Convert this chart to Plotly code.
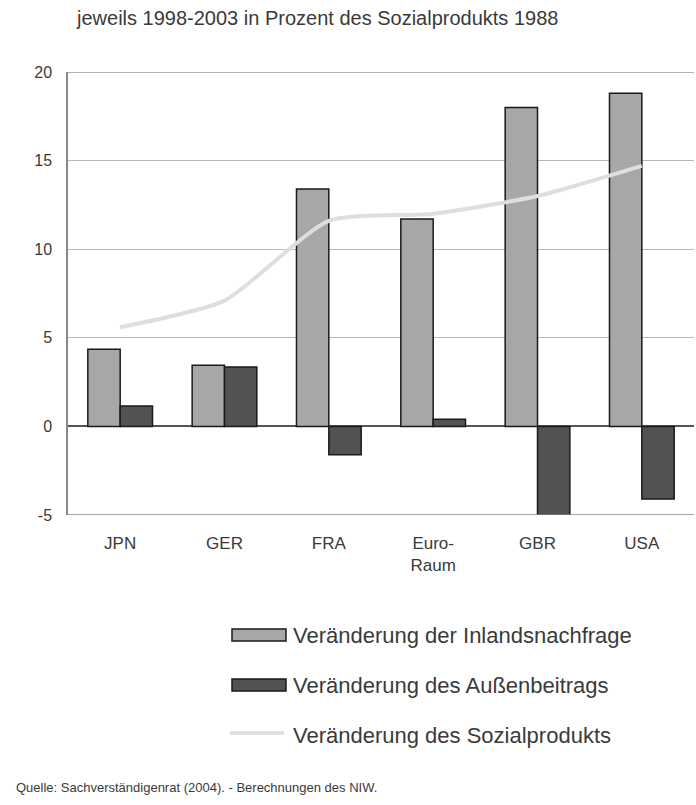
import plotly.graph_objects as go

categories = ["JPN", "GER", "FRA", "Euro-<br>Raum", "GBR", "USA"]
inlandsnachfrage = [4.35, 3.45, 13.4, 11.7, 18.0, 18.8]
aussenbeitrag = [1.15, 3.35, -1.6, 0.4, -5.0, -4.1]
sozialprodukt = [5.6, 7.1, 11.6, 12.0, 13.0, 14.7]
y_ticks = [-5, 0, 5, 10, 15, 20]

names = ["Veränderung der Inlandsnachfrage",
         "Veränderung des Außenbeitrags",
         "Veränderung des Sozialprodukts"]

FONT = "Liberation Sans, Arial, sans-serif"
TXT = "#3a3a3a"

# plot area in page pixels
L, R, T, B = 68, 694, 72, 515
W, H = 696, 805

fig = go.Figure()
fig.add_trace(go.Bar(x=categories, y=inlandsnachfrage, name=names[0],
                     marker=dict(color="#a7a7a7", line=dict(color="#1a1a1a", width=1.5))))
fig.add_trace(go.Bar(x=categories, y=aussenbeitrag, name=names[1],
                     marker=dict(color="#525252", line=dict(color="#1a1a1a", width=1.5))))
fig.add_trace(go.Scatter(x=categories, y=sozialprodukt, name=names[2], mode="lines",
                         line=dict(color="#dedede", width=4, shape="spline", smoothing=0.6)))

fig.update_layout(
    width=W, height=H,
    margin=dict(l=L, r=W - R, t=T, b=H - B),
    paper_bgcolor="white", plot_bgcolor="white",
    barmode="group", bargap=0.38, bargroupgap=0,
    showlegend=False,
    font=dict(family=FONT, size=13, color=TXT),
    xaxis=dict(showgrid=False, ticks="", tickfont=dict(size=17, color=TXT),
               showline=False, zeroline=False, ticklabelstandoff=16),
    yaxis=dict(range=[-5, 20], tickvals=y_ticks, ticktext=[str(v) for v in y_ticks],
               showgrid=True, gridcolor="#b8b8b8", gridwidth=1,
               zeroline=True, zerolinecolor="#555555", zerolinewidth=1.5,
               showline=True, linecolor="#888888", linewidth=1.5,
               ticks="", ticklabelstandoff=11, tickfont=dict(size=16, color=TXT)),
)

def px(xpx):
    return (xpx - L) / (R - L)
def py(ypx):
    return (B - ypx) / (B - T)

# bottom axis line at -5 and top line at 20
fig.add_shape(type="line", xref="paper", yref="y", x0=0, x1=1, y0=-5, y1=-5,
              line=dict(color="#888888", width=1.5))
fig.add_shape(type="line", xref="paper", yref="y", x0=0, x1=1, y0=20, y1=20,
              line=dict(color="#999999", width=1.5))

# title
fig.add_annotation(text="jeweils 1998-2003 in Prozent des Sozialprodukts 1988",
                   xref="paper", yref="paper", x=px(74), y=py(18),
                   xanchor="left", yanchor="middle", showarrow=False,
                   font=dict(size=20, color=TXT))

# manual legend
leg_y = [635, 685, 735]
fills = ["#a7a7a7", "#525252"]
for i, name in enumerate(names):
    if i < 2:
        fig.add_shape(type="rect", xref="paper", yref="paper",
                      x0=px(232), x1=px(286), y0=py(leg_y[i] + 6), y1=py(leg_y[i] - 6),
                      fillcolor=fills[i], line=dict(color="#1a1a1a", width=1.5))
    else:
        fig.add_shape(type="line", xref="paper", yref="paper",
                      x0=px(230), x1=px(284), y0=py(leg_y[i] - 2), y1=py(leg_y[i] - 2),
                      line=dict(color="#e0e0e0", width=4))
    fig.add_annotation(text=name, xref="paper", yref="paper", x=px(291), y=py(leg_y[i]),
                       xanchor="left", yanchor="middle", showarrow=False,
                       font=dict(size=22, color=TXT))

# source
fig.add_annotation(text="Quelle: Sachverständigenrat (2004). - Berechnungen des NIW.",
                   xref="paper", yref="paper", x=px(14), y=py(787),
                   xanchor="left", yanchor="middle", showarrow=False,
                   font=dict(size=13, color=TXT))

fig.write_html("out.html", config={"displayModeBar": False},
               post_script="document.body.style.margin='0';document.body.style.overflow='hidden';")
